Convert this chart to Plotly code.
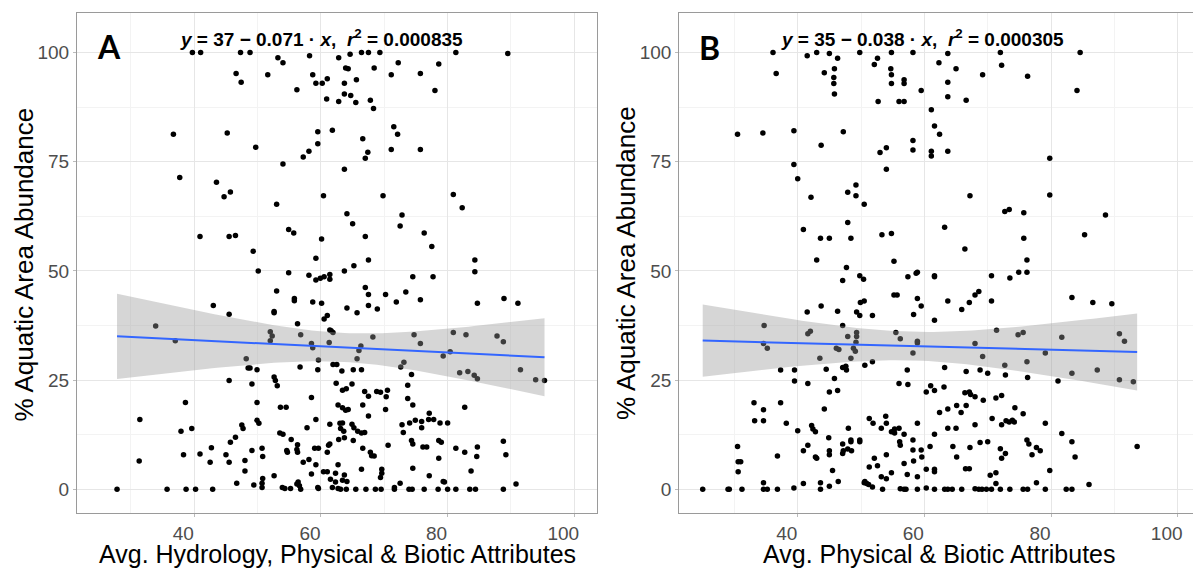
import numpy as np
import plotly.graph_objects as go

# ---------------- data ----------------
a_x = [39.7, 41.0, 47.3, 48.8, 58.2, 66.4, 67.5, 69.3, 81.3, 89.5,
       53.2, 54.0, 64.6, 62.8, 63.9, 64.3, 68.4, 72.2, 78.6, 46.6,
       51.6, 58.7, 47.4, 61.0, 59.2, 60.2, 63.7, 65.6, 71.1, 75.7,
       56.2, 78.0, 60.9, 62.8, 63.7, 64.7, 65.5, 67.8, 68.3, 36.7,
       45.2, 61.8, 59.5, 59.5, 71.5, 72.1, 58.1, 57.2, 71.1, 75.7,
       66.6, 67.4, 67.0, 49.7, 54.0, 63.7, 37.7, 43.5, 44.7, 45.7,
       60.4, 69.8, 80.9, 82.3, 53.0, 64.1, 65.0, 72.8, 72.5, 54.9,
       55.7, 40.9, 45.5, 46.5, 60.1, 67.0, 76.3, 49.3, 67.5, 59.2,
       77.5, 84.3, 50.1, 54.9, 58.1, 59.2, 59.9, 60.5, 61.4, 61.4,
       63.7, 65.2, 74.5, 77.7, 84.3, 43.0, 45.5, 53.0, 55.8, 55.8,
       52.6, 52.6, 58.7, 60.1, 64.1, 65.7, 67.0, 67.5, 67.5, 68.9,
       70.2, 73.4, 71.9, 75.7, 84.7, 88.9, 91.1, 33.9, 37.0, 56.3,
       60.5, 61.0, 61.4, 61.6, 61.9, 52.0, 52.3, 52.0, 56.8, 58.5,
       58.7, 61.3, 74.7, 75.7, 80.9, 82.9, 87.8, 88.8, 66.0, 66.3,
       65.7, 68.2, 48.2, 48.5, 48.8, 49.9, 56.7, 59.6, 59.5, 61.9,
       62.5, 63.3, 65.1, 66.4, 72.6, 73.1, 74.3, 79.3, 80.4, 81.9,
       83.2, 84.2, 84.7, 91.5, 93.9, 95.3, 45.5, 49.1, 52.6, 52.8,
       53.1, 62.4, 63.4, 64.0, 64.9, 66.9, 67.5, 68.8, 69.4, 70.5,
       70.3, 73.7, 73.7, 38.6, 49.9, 53.6, 54.5, 58.5, 62.7, 63.4,
       63.9, 64.3, 66.6, 67.5, 70.2, 74.5, 82.7, 31.4, 37.9, 39.6,
       47.5, 47.7, 49.9, 50.2, 59.2, 57.8, 61.4, 63.0, 63.4, 63.6,
       64.9, 65.2, 65.8, 66.4, 66.9, 63.1, 72.8, 74.0, 74.9, 75.9,
       75.9, 77.0, 77.8, 78.8, 80.0, 77.1, 42.7, 45.7, 46.5, 53.5,
       54.0, 55.3, 56.3, 62.8, 63.7, 65.1, 73.0, 74.3, 74.5, 76.1,
       76.7, 78.6, 79.0, 88.8, 31.3, 38.3, 40.9, 42.5, 45.0, 45.5,
       48.0, 49.1, 50.7, 50.8, 54.6, 54.7, 56.2, 56.3, 59.0, 59.6,
       61.0, 61.2, 61.4, 66.6, 67.8, 68.0, 68.4, 70.6, 78.6, 81.3,
       82.7, 84.7, 84.6, 89.2, 48.0, 50.8, 52.6, 57.2, 58.1, 59.2,
       60.4, 61.0, 62.3, 62.7, 63.4, 63.7, 64.1, 66.4, 69.6, 69.6,
       69.4, 74.5, 77.1, 79.3, 83.7, 46.7, 49.4, 50.7, 50.7, 53.9,
       54.3, 55.2, 56.2, 56.4, 56.6, 56.8, 58.5, 59.5, 59.6, 61.5,
       61.8, 62.3, 62.7, 63.1, 64.0, 65.5, 67.1, 68.6, 69.5, 71.6,
       71.6, 72.5, 73.9, 74.4, 76.3, 78.5, 79.5, 80.0, 81.3, 83.5,
       84.4, 88.8, 90.8, 27.8, 35.7, 38.7, 40.2, 42.9]
a_y = [100, 100, 100, 100, 99.3, 100, 100, 100, 100, 99.8,
       98.8, 97.7, 99.6, 98.8, 96.5, 96.3, 96.5, 97.7, 97.4, 95.2,
       94.9, 94.9, 93.2, 94.0, 93.0, 93.0, 93.0, 93.8, 94.9, 95.2,
       91.5, 91.3, 89.4, 88.8, 90.5, 90.2, 88.6, 89.1, 87.2, 81.3,
       81.6, 82.2, 81.9, 79.1, 83.0, 81.3, 77.4, 76.1, 77.8, 77.8,
       80.3, 77.2, 75.8, 78.3, 74.5, 73.3, 71.4, 70.3, 67.0, 68.1,
       67.2, 67.2, 67.5, 64.5, 65.3, 63.1, 60.8, 62.8, 60.3, 59.5,
       58.7, 57.9, 57.9, 58.1, 57.3, 57.9, 58.7, 54.5, 52.5, 52.9,
       55.6, 52.5, 50.0, 49.6, 49.0, 47.9, 48.3, 48.7, 49.2, 48.1,
       50.0, 51.2, 48.7, 48.7, 49.8, 42.1, 40.1, 45.4, 43.7, 43.2,
       40.7, 40.4, 42.9, 42.6, 41.5, 40.4, 46.2, 44.6, 42.1, 41.3,
       44.6, 45.2, 42.9, 43.4, 42.6, 43.7, 42.6, 37.4, 34.0, 37.9,
       39.0, 39.8, 36.5, 36.3, 35.9, 36.1, 35.1, 34.0, 35.4, 33.4,
       32.4, 33.6, 35.4, 33.4, 35.9, 35.4, 35.1, 33.8, 31.8, 32.8,
       29.9, 34.9, 29.9, 27.8, 27.8, 27.4, 28.0, 29.6, 27.4, 28.6,
       28.6, 27.1, 27.4, 27.4, 28.0, 29.1, 26.3, 30.5, 31.5, 26.7,
       27.0, 26.1, 25.3, 27.4, 25.1, 24.9, 24.9, 24.1, 25.7, 24.9,
       23.7, 24.3, 22.7, 23.0, 24.1, 22.4, 21.3, 22.4, 22.2, 22.7,
       21.2, 23.8, 20.8, 19.9, 19.9, 18.8, 18.8, 21.0, 19.3, 18.7,
       18.1, 18.3, 19.3, 16.8, 18.3, 19.3, 18.8, 16.0, 13.3, 13.9,
       14.7, 13.9, 15.8, 15.1, 16.0, 14.1, 14.9, 15.1, 15.2, 13.3,
       14.9, 14.1, 13.3, 12.9, 13.0, 13.9, 14.8, 15.2, 15.8, 15.5,
       14.1, 16.0, 16.0, 15.2, 15.2, 17.4, 9.5, 10.8, 11.9, 12.9,
       12.6, 11.4, 10.2, 11.4, 11.8, 11.2, 13.0, 11.2, 10.4, 9.7,
       9.7, 11.2, 10.8, 11.0, 6.5, 7.9, 8.1, 6.2, 7.9, 6.2,
       6.6, 8.9, 9.4, 7.5, 8.9, 8.5, 9.1, 8.5, 9.4, 9.4,
       8.5, 10.1, 10.4, 9.4, 8.5, 7.7, 7.6, 10.1, 7.1, 9.4,
       8.5, 9.7, 7.5, 7.9, 4.2, 2.5, 3.1, 6.2, 6.8, 5.6,
       4.0, 4.0, 3.7, 5.6, 2.1, 3.3, 1.8, 4.6, 3.7, 4.6,
       2.7, 4.8, 3.1, 1.8, 4.2, 1.4, 1.0, 1.4, 0.4, 0.4,
       0.2, 0.2, 1.2, 1.7, 0.8, 0.0, 3.5, 0.4, 0.2, 2.3,
       0.4, 1.7, 0.2, 0.0, 0.0, 0.0, 0.0, 0.0, 0.0, 0.0,
       0.4, 1.4, 0.0, 0.0, 0.0, 0.0, 1.7, 0.0, 0.0, 0.0,
       0.0, 0.0, 1.2, 0.0, 0.0, 0.0, 0.0, 0.0]

b_x = [36.1, 41.5, 43.0, 45.0, 46.3, 49.8, 52.6, 54.8, 58.2, 63.7,
       72.0, 84.6, 36.6, 44.2, 45.8, 45.7, 45.7, 45.8, 52.1, 54.7,
       54.8, 54.8, 56.8, 56.8, 62.3, 65.0, 63.7, 63.7, 69.2, 72.2,
       76.3, 84.1, 52.7, 56.0, 56.8, 59.5, 66.6, 30.5, 34.5, 39.4,
       47.2, 43.7, 61.1, 61.6, 62.4, 58.2, 58.2, 63.7, 61.1, 61.1,
       53.0, 54.0, 79.8, 39.4, 40.0, 54.0, 42.1, 47.9, 49.2, 49.2,
       50.5, 67.2, 79.8, 72.7, 73.4, 75.7, 40.9, 43.6, 45.0, 47.9,
       48.4, 53.3, 54.8, 63.2, 85.3, 88.6, 43.0, 55.2, 47.7, 49.8,
       50.4, 47.1, 57.4, 58.7, 58.9, 61.6, 61.6, 66.4, 70.6, 73.5,
       74.9, 75.7, 76.2, 76.2, 41.5, 43.7, 46.3, 47.1, 49.9, 50.5,
       49.3, 49.8, 51.8, 55.2, 55.7, 58.3, 58.9, 59.5, 61.6, 63.7,
       65.9, 67.1, 68.0, 68.6, 70.6, 83.3, 86.6, 89.6, 34.7, 34.6,
       35.2, 41.6, 42.0, 43.5, 46.1, 46.5, 47.9, 49.3, 49.3, 49.2,
       48.8, 55.5, 56.2, 58.2, 58.9, 58.9, 68.0, 71.4, 74.8, 75.6,
       79.1, 81.7, 90.8, 91.6, 47.1, 47.6, 47.7, 48.4, 49.1, 50.6,
       51.8, 57.3, 63.2, 66.6, 68.8, 69.2, 70.0, 72.7, 72.8, 76.2,
       76.3, 83.3, 87.3, 90.8, 93.0, 37.3, 39.5, 39.5, 41.6, 44.5,
       45.8, 46.3, 45.0, 56.0, 57.4, 60.3, 61.0, 61.6, 63.1, 66.4,
       67.1, 68.0, 69.3, 71.3, 72.2, 81.1, 33.1, 37.3, 34.6, 33.2,
       34.6, 38.2, 40.0, 42.2, 42.4, 42.8, 44.2, 48.0, 51.3, 51.9,
       53.2, 53.9, 54.0, 54.8, 55.3, 56.0, 56.8, 58.9, 61.6, 62.4,
       63.7, 63.7, 65.1, 65.0, 65.8, 66.6, 67.3, 68.0, 70.7, 72.2,
       72.9, 73.4, 73.9, 74.3, 74.2, 75.6, 79.1, 30.5, 30.6, 31.0,
       30.6, 36.8, 40.9, 41.6, 42.8, 43.0, 44.9, 45.0, 45.0, 45.5,
       47.1, 47.1, 47.2, 47.9, 48.4, 48.4, 48.5, 49.8, 49.8, 51.3,
       52.1, 52.6, 53.2, 54.0, 54.8, 55.3, 56.1, 56.2, 56.8, 57.3,
       58.2, 58.2, 58.3, 58.9, 59.5, 59.6, 60.3, 60.9, 61.6, 61.6,
       64.5, 65.1, 66.5, 67.1, 67.2, 68.8, 70.0, 70.4, 71.3, 72.0,
       72.2, 72.8, 76.2, 76.5, 77.0, 77.7, 78.3, 79.8, 81.7, 83.3,
       83.8, 93.6, 31.2, 29.0, 29.2, 25.0, 34.6, 34.6, 35.2, 36.8,
       39.4, 40.9, 43.6, 43.6, 45.0, 46.4, 50.5, 50.6, 50.9, 51.2,
       51.8, 53.4, 54.0, 56.2, 56.8, 57.1, 58.9, 60.3, 61.6, 63.2,
       63.7, 64.4, 65.9, 68.0, 68.6, 69.1, 69.8, 70.6, 71.3, 72.0,
       73.5, 75.6, 76.3, 77.7, 79.1, 82.4, 83.3, 86.0]
b_y = [100, 99.3, 100, 99.8, 98.7, 100, 98.7, 100, 100, 99.8,
       100, 100, 95.2, 95.4, 96.3, 94.3, 92.9, 90.5, 97.3, 96.3,
       94.9, 92.9, 93.8, 92.9, 97.7, 96.3, 93.2, 89.9, 94.9, 97.1,
       94.6, 91.3, 88.8, 88.8, 88.8, 91.3, 89.1, 81.3, 81.6, 82.1,
       81.9, 78.8, 86.9, 83.2, 81.3, 79.9, 77.7, 77.4, 77.4, 76.3,
       77.1, 78.2, 75.8, 74.4, 71.1, 73.3, 66.9, 68.0, 69.7, 67.2,
       65.3, 67.2, 67.4, 63.6, 64.1, 63.3, 59.5, 57.5, 57.5, 61.1,
       57.5, 58.3, 58.6, 60.0, 58.3, 62.8, 52.5, 52.2, 50.8, 48.9,
       48.1, 47.8, 48.7, 49.5, 49.7, 48.9, 48.7, 55.0, 48.9, 48.4,
       49.7, 57.5, 52.5, 49.7, 40.6, 42.0, 40.8, 37.5, 42.8, 43.1,
       40.6, 39.8, 39.8, 44.5, 44.5, 40.0, 43.7, 42.0, 38.7, 43.1,
       41.2, 42.8, 44.5, 45.3, 43.1, 43.9, 42.8, 42.5, 37.5, 33.4,
       32.3, 35.6, 36.2, 30.0, 32.3, 32.0, 35.0, 35.9, 35.0, 33.7,
       32.3, 35.9, 34.5, 31.2, 33.9, 33.5, 33.4, 36.4, 35.4, 35.9,
       31.2, 34.8, 35.6, 33.9, 27.9, 28.2, 27.3, 30.0, 31.6, 28.4,
       29.2, 27.3, 27.9, 27.0, 27.3, 30.4, 26.6, 28.4, 26.2, 29.2,
       25.6, 26.6, 27.3, 25.1, 24.6, 27.3, 27.3, 24.8, 24.2, 27.5,
       25.4, 22.6, 22.3, 24.2, 24.0, 22.3, 23.7, 22.6, 23.4, 22.1,
       22.3, 21.2, 20.4, 20.9, 21.5, 24.8, 19.8, 19.8, 18.2, 15.7,
       15.7, 15.1, 13.4, 14.6, 13.8, 13.2, 18.4, 14.0, 16.2, 15.1,
       14.0, 16.7, 15.1, 13.2, 12.9, 14.0, 12.6, 15.1, 12.6, 17.6,
       18.4, 14.0, 19.2, 14.0, 17.6, 19.2, 21.7, 14.8, 16.2, 14.8,
       15.7, 15.4, 15.8, 18.7, 15.4, 17.3, 15.1, 9.8, 6.3, 6.3,
       4.0, 7.6, 8.8, 10.1, 7.4, 7.1, 11.8, 8.8, 7.9, 4.3,
       10.4, 8.2, 8.8, 9.2, 10.9, 11.3, 8.8, 11.3, 10.9, 5.1,
       7.1, 5.4, 2.9, 7.9, 3.8, 13.8, 10.9, 10.1, 5.9, 3.4,
       11.3, 9.0, 6.5, 2.9, 9.0, 7.4, 4.6, 9.8, 4.6, 4.0,
       9.8, 7.4, 4.7, 4.7, 9.6, 10.7, 10.9, 3.2, 3.8, 9.3,
       7.1, 8.2, 11.3, 10.4, 7.9, 9.6, 8.8, 4.3, 12.8, 10.9,
       7.4, 9.8, 0.0, 0.0, 0.0, 0.0, 1.5, 0.0, 0.0, 0.0,
       0.3, 1.3, 1.5, 0.0, 0.7, 1.8, 1.5, 1.8, 1.3, 1.1,
       0.5, 0.0, 2.4, 0.1, 0.0, 0.0, 0.0, 0.3, 0.0, 0.0,
       0.0, 0.0, 0.0, 0.1, 0.0, 0.0, 0.0, 0.0, 1.3, 0.0,
       0.0, 0.0, 0.0, 1.5, 0.0, 0.0, 0.0, 1.1]

# fitted coefficients, as printed on the chart
a_intercept, a_slope = 37.0, -0.071
b_intercept, b_slope = 35.0, -0.038
a_label = "<b><i>y</i> = 37 − 0.071 · <i>x</i>,  <i>r</i><sup>2</sup> = 0.000835</b>"
b_label = "<b><i>y</i> = 35 − 0.038 · <i>x</i>,  <i>r</i><sup>2</sup> = 0.000305</b>"
x_tick_vals = [40, 60, 80, 100]
y_tick_vals = [0, 25, 50, 75, 100]
a_xtitle = "Avg. Hydrology, Physical & Biotic Attributes"
b_xtitle = "Avg. Physical & Biotic Attributes"
y_title = "% Aquatic Area Abundance"

# ---------------- helpers ----------------
W, H = 1193, 569


def fit_band(xs, ys, b0, b1, t=1.967, npts=80):
    xs = np.asarray(xs, float)
    ys = np.asarray(ys, float)
    n = len(xs)
    resid = ys - (b0 + b1 * xs)
    s = np.sqrt(np.sum(resid ** 2) / (n - 2))
    xbar = xs.mean()
    sxx = np.sum((xs - xbar) ** 2)
    xl = np.linspace(xs.min(), xs.max(), npts)
    yl = b0 + b1 * xl
    half = t * s * np.sqrt(1.0 / n + (xl - xbar) ** 2 / sxx)
    return xl, yl, yl - half, yl + half


fig = go.Figure()

for xs, ys, b0, b1, xa, ya in [(a_x, a_y, a_intercept, a_slope, "x", "y"),
                               (b_x, b_y, b_intercept, b_slope, "x2", "y2")]:
    fig.add_trace(go.Scatter(x=xs, y=ys, mode="markers", xaxis=xa, yaxis=ya,
                             marker=dict(color="black", size=5.5, line=dict(width=0)),
                             showlegend=False, hoverinfo="skip"))
    xl, yl, lo, hi = fit_band(xs, ys, b0, b1)
    fig.add_trace(go.Scatter(x=xl, y=lo, mode="lines", line=dict(width=0),
                             xaxis=xa, yaxis=ya, showlegend=False, hoverinfo="skip"))
    fig.add_trace(go.Scatter(x=xl, y=hi, mode="lines", line=dict(width=0),
                             fill="tonexty", fillcolor="rgba(153,153,153,0.4)",
                             xaxis=xa, yaxis=ya, showlegend=False, hoverinfo="skip"))
    fig.add_trace(go.Scatter(x=xl, y=yl, mode="lines", line=dict(color="#3366FF", width=2),
                             xaxis=xa, yaxis=ya, showlegend=False, hoverinfo="skip"))

# pixel geometry of the panels
a_left, a_right = 77.0, 597.0
b_left, b_right = 679.3, 1193.0
px_per_x = 6.333
grid40_a, grid40_b = 194.3, 797.7
top_px, bot_px = 12.7, 513.3
y0_px, px_per_y = 489.3, 4.367

tick_font = dict(family="Liberation Sans, Arial, sans-serif", size=19, color="#4D4D4D")
common_x = dict(tickvals=x_tick_vals, showgrid=True, gridcolor="#E6E6E6", gridwidth=1.1,
                minor=dict(tickvals=[30, 50, 70, 90], showgrid=True, gridcolor="#F3F3F3", gridwidth=0.7),
                showline=True, linecolor="#9A9A9A", linewidth=1.2, zeroline=False,
                ticks="outside", ticklen=3, tickcolor="#BBBBBB", tickfont=tick_font,
                ticklabelshift=-11, fixedrange=True)
common_y = dict(tickvals=y_tick_vals, showgrid=True, gridcolor="#E6E6E6", gridwidth=1.1,
                minor=dict(tickvals=[12.5, 37.5, 62.5, 87.5], showgrid=True, gridcolor="#F3F3F3", gridwidth=0.7),
                showline=True, linecolor="#9A9A9A", linewidth=1.2, zeroline=False,
                ticks="outside", ticklen=3, tickcolor="#BBBBBB", tickfont=tick_font,
                range=[-(bot_px - y0_px) / px_per_y, 100 + (y0_px - px_per_y * 100 - top_px) / px_per_y],
                domain=[(H - bot_px) / H, (H - top_px) / H], fixedrange=True)

fig.update_layout(
    width=W, height=H, margin=dict(l=0, r=0, t=0, b=0),
    paper_bgcolor="white", plot_bgcolor="white",
    xaxis=dict(common_x, domain=[a_left / W, a_right / W], anchor="y", mirror=True,
               range=[40 - (grid40_a - a_left) / px_per_x, 40 + (a_right - grid40_a) / px_per_x]),
    xaxis2=dict(common_x, domain=[b_left / W, b_right / W], anchor="y2", mirror=True,
                range=[40 - (grid40_b - b_left) / px_per_x, 40 + (b_right - grid40_b) / px_per_x]),
    yaxis=dict(common_y, anchor="x", mirror=True),
    yaxis2=dict(common_y, anchor="x2", mirror=False),
)

title_font = dict(family="Liberation Sans, Arial, sans-serif", size=25, color="black")
eq_font = dict(family="Liberation Sans, Arial, sans-serif", size=19, color="black")
letter_font = dict(family="Lato, Liberation Sans, sans-serif", size=32, color="black")

ann = []
ann.append(dict(text=a_xtitle, x=(a_left + a_right) / 2 / W, y=(H - 554) / H, xref="paper", yref="paper",
                showarrow=False, font=title_font, xanchor="center", yanchor="middle"))
ann.append(dict(text=b_xtitle, x=(b_left + 1199.3) / 2 / W, y=(H - 554) / H, xref="paper", yref="paper",
                showarrow=False, font=title_font, xanchor="center", yanchor="middle"))
ann.append(dict(text=y_title, x=23 / W, y=(H - 264.5) / H, xref="paper", yref="paper", textangle=-90,
                showarrow=False, font=dict(title_font, size=26), xanchor="center", yanchor="middle"))
ann.append(dict(text=y_title, x=626 / W, y=(H - 263) / H, xref="paper", yref="paper", textangle=-90,
                showarrow=False, font=dict(title_font, size=26), xanchor="center", yanchor="middle"))
ann.append(dict(text=a_label, x=321 / W, y=(H - 38) / H, xref="paper", yref="paper",
                showarrow=False, font=eq_font, xanchor="center", yanchor="middle"))
ann.append(dict(text=b_label, x=922 / W, y=(H - 38) / H, xref="paper", yref="paper",
                showarrow=False, font=eq_font, xanchor="center", yanchor="middle"))
ann.append(dict(text="<b>A</b>", x=108.5 / W, y=(H - 47) / H, xref="paper", yref="paper",
                showarrow=False, font=letter_font, xanchor="center", yanchor="middle"))
ann.append(dict(text="<b>B</b>", x=709 / W, y=(H - 48) / H, xref="paper", yref="paper",
                showarrow=False, font=letter_font, xanchor="center", yanchor="middle"))
fig.update_layout(annotations=ann)

fig.write_html("out.html", config={"displayModeBar": False},
               post_script="document.body.style.margin='0';document.body.style.overflow='hidden';")
